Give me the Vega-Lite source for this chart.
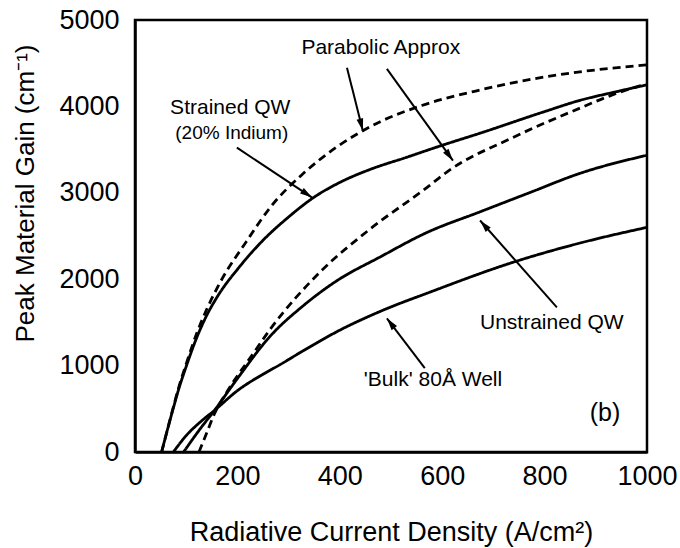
{
  "$schema": "https://vega.github.io/schema/vega-lite/v6.json",
  "width": 512,
  "height": 432,
  "autosize": {"type": "none"},
  "padding": {"left": 135, "top": 20, "right": 33, "bottom": 96},
  "background": "white",
  "config": {
    "view": {"stroke": "black", "strokeWidth": 2.5},
    "font": "Liberation Sans",
    "axis": {
      "grid": false,
      "ticks": false,
      "domainColor": "black",
      "domainWidth": 2.5,
      "labelColor": "black",
      "titleColor": "black",
      "labelFont": "Liberation Sans",
      "titleFont": "Liberation Sans",
      "labelFontSize": 27,
      "titleFontWeight": "normal"
    }
  },
  "datasets": {
    "curves": [
      {"series": "Strained QW", "model": "Full calculation", "j": 52, "gain": 0},
      {"series": "Strained QW", "model": "Full calculation", "j": 63, "gain": 250},
      {"series": "Strained QW", "model": "Full calculation", "j": 74, "gain": 490},
      {"series": "Strained QW", "model": "Full calculation", "j": 86, "gain": 740},
      {"series": "Strained QW", "model": "Full calculation", "j": 100, "gain": 990},
      {"series": "Strained QW", "model": "Full calculation", "j": 121, "gain": 1330},
      {"series": "Strained QW", "model": "Full calculation", "j": 140, "gain": 1580},
      {"series": "Strained QW", "model": "Full calculation", "j": 160, "gain": 1790},
      {"series": "Strained QW", "model": "Full calculation", "j": 205, "gain": 2150},
      {"series": "Strained QW", "model": "Full calculation", "j": 250, "gain": 2450},
      {"series": "Strained QW", "model": "Full calculation", "j": 300, "gain": 2720},
      {"series": "Strained QW", "model": "Full calculation", "j": 350, "gain": 2950},
      {"series": "Strained QW", "model": "Full calculation", "j": 400, "gain": 3120},
      {"series": "Strained QW", "model": "Full calculation", "j": 459, "gain": 3270},
      {"series": "Strained QW", "model": "Full calculation", "j": 530, "gain": 3410},
      {"series": "Strained QW", "model": "Full calculation", "j": 600, "gain": 3550},
      {"series": "Strained QW", "model": "Full calculation", "j": 674, "gain": 3690},
      {"series": "Strained QW", "model": "Full calculation", "j": 800, "gain": 3940},
      {"series": "Strained QW", "model": "Full calculation", "j": 869, "gain": 4070},
      {"series": "Strained QW", "model": "Full calculation", "j": 940, "gain": 4170},
      {"series": "Strained QW", "model": "Full calculation", "j": 1000, "gain": 4250},

      {"series": "Strained QW (parabolic)", "model": "Parabolic Approx", "j": 52, "gain": 0},
      {"series": "Strained QW (parabolic)", "model": "Parabolic Approx", "j": 63, "gain": 250},
      {"series": "Strained QW (parabolic)", "model": "Parabolic Approx", "j": 74, "gain": 500},
      {"series": "Strained QW (parabolic)", "model": "Parabolic Approx", "j": 86, "gain": 760},
      {"series": "Strained QW (parabolic)", "model": "Parabolic Approx", "j": 100, "gain": 1020},
      {"series": "Strained QW (parabolic)", "model": "Parabolic Approx", "j": 121, "gain": 1380},
      {"series": "Strained QW (parabolic)", "model": "Parabolic Approx", "j": 140, "gain": 1650},
      {"series": "Strained QW (parabolic)", "model": "Parabolic Approx", "j": 166, "gain": 1960},
      {"series": "Strained QW (parabolic)", "model": "Parabolic Approx", "j": 218, "gain": 2440},
      {"series": "Strained QW (parabolic)", "model": "Parabolic Approx", "j": 264, "gain": 2830},
      {"series": "Strained QW (parabolic)", "model": "Parabolic Approx", "j": 328, "gain": 3220},
      {"series": "Strained QW (parabolic)", "model": "Parabolic Approx", "j": 394, "gain": 3530},
      {"series": "Strained QW (parabolic)", "model": "Parabolic Approx", "j": 478, "gain": 3820},
      {"series": "Strained QW (parabolic)", "model": "Parabolic Approx", "j": 560, "gain": 4010},
      {"series": "Strained QW (parabolic)", "model": "Parabolic Approx", "j": 674, "gain": 4190},
      {"series": "Strained QW (parabolic)", "model": "Parabolic Approx", "j": 770, "gain": 4310},
      {"series": "Strained QW (parabolic)", "model": "Parabolic Approx", "j": 869, "gain": 4400},
      {"series": "Strained QW (parabolic)", "model": "Parabolic Approx", "j": 1000, "gain": 4480},

      {"series": "Unstrained QW", "model": "Full calculation", "j": 95, "gain": 0},
      {"series": "Unstrained QW", "model": "Full calculation", "j": 125, "gain": 250},
      {"series": "Unstrained QW", "model": "Full calculation", "j": 155, "gain": 480},
      {"series": "Unstrained QW", "model": "Full calculation", "j": 200, "gain": 850},
      {"series": "Unstrained QW", "model": "Full calculation", "j": 264, "gain": 1340},
      {"series": "Unstrained QW", "model": "Full calculation", "j": 328, "gain": 1690},
      {"series": "Unstrained QW", "model": "Full calculation", "j": 395, "gain": 1985},
      {"series": "Unstrained QW", "model": "Full calculation", "j": 478, "gain": 2255},
      {"series": "Unstrained QW", "model": "Full calculation", "j": 570, "gain": 2540},
      {"series": "Unstrained QW", "model": "Full calculation", "j": 674, "gain": 2780},
      {"series": "Unstrained QW", "model": "Full calculation", "j": 770, "gain": 3000},
      {"series": "Unstrained QW", "model": "Full calculation", "j": 869, "gain": 3225},
      {"series": "Unstrained QW", "model": "Full calculation", "j": 1000, "gain": 3435},

      {"series": "Unstrained QW (parabolic)", "model": "Parabolic Approx", "j": 125, "gain": 0},
      {"series": "Unstrained QW (parabolic)", "model": "Parabolic Approx", "j": 140, "gain": 220},
      {"series": "Unstrained QW (parabolic)", "model": "Parabolic Approx", "j": 155, "gain": 440},
      {"series": "Unstrained QW (parabolic)", "model": "Parabolic Approx", "j": 180, "gain": 700},
      {"series": "Unstrained QW (parabolic)", "model": "Parabolic Approx", "j": 231, "gain": 1140},
      {"series": "Unstrained QW (parabolic)", "model": "Parabolic Approx", "j": 264, "gain": 1420},
      {"series": "Unstrained QW (parabolic)", "model": "Parabolic Approx", "j": 361, "gain": 2080},
      {"series": "Unstrained QW (parabolic)", "model": "Parabolic Approx", "j": 459, "gain": 2580},
      {"series": "Unstrained QW (parabolic)", "model": "Parabolic Approx", "j": 570, "gain": 3060},
      {"series": "Unstrained QW (parabolic)", "model": "Parabolic Approx", "j": 609, "gain": 3240},
      {"series": "Unstrained QW (parabolic)", "model": "Parabolic Approx", "j": 738, "gain": 3640},
      {"series": "Unstrained QW (parabolic)", "model": "Parabolic Approx", "j": 869, "gain": 3980},
      {"series": "Unstrained QW (parabolic)", "model": "Parabolic Approx", "j": 922, "gain": 4110},
      {"series": "Unstrained QW (parabolic)", "model": "Parabolic Approx", "j": 960, "gain": 4190},
      {"series": "Unstrained QW (parabolic)", "model": "Parabolic Approx", "j": 990, "gain": 4245},

      {"series": "'Bulk' 80Å Well", "model": "Full calculation", "j": 75, "gain": 0},
      {"series": "'Bulk' 80Å Well", "model": "Full calculation", "j": 100, "gain": 190},
      {"series": "'Bulk' 80Å Well", "model": "Full calculation", "j": 130, "gain": 360},
      {"series": "'Bulk' 80Å Well", "model": "Full calculation", "j": 155, "gain": 480},
      {"series": "'Bulk' 80Å Well", "model": "Full calculation", "j": 200, "gain": 710},
      {"series": "'Bulk' 80Å Well", "model": "Full calculation", "j": 250, "gain": 900},
      {"series": "'Bulk' 80Å Well", "model": "Full calculation", "j": 283, "gain": 1010},
      {"series": "'Bulk' 80Å Well", "model": "Full calculation", "j": 328, "gain": 1170},
      {"series": "'Bulk' 80Å Well", "model": "Full calculation", "j": 400, "gain": 1410},
      {"series": "'Bulk' 80Å Well", "model": "Full calculation", "j": 484, "gain": 1640},
      {"series": "'Bulk' 80Å Well", "model": "Full calculation", "j": 576, "gain": 1850},
      {"series": "'Bulk' 80Å Well", "model": "Full calculation", "j": 738, "gain": 2195},
      {"series": "'Bulk' 80Å Well", "model": "Full calculation", "j": 870, "gain": 2420},
      {"series": "'Bulk' 80Å Well", "model": "Full calculation", "j": 1000, "gain": 2600}
    ],
    "labels": [
      {"label": "Parabolic Approx", "j": 480, "gain": 4675},
      {"label": "Strained QW", "j": 186, "gain": 3985},
      {"label": "(20% Indium)", "j": 189, "gain": 3695},
      {"label": "Unstrained QW", "j": 814, "gain": 1490},
      {"label": "'Bulk' 80Å Well", "j": 582, "gain": 830},
      {"label": "(b)", "j": 918, "gain": 450}
    ],
    "arrows": [
      {"target": "Strained QW", "j": 199, "gain": 3522, "j_tip": 346, "gain_tip": 2945},
      {"target": "Strained QW (parabolic)", "j": 414, "gain": 4446, "j_tip": 445, "gain_tip": 3718},
      {"target": "Unstrained QW (parabolic)", "j": 492, "gain": 4434, "j_tip": 621, "gain_tip": 3372},
      {"target": "Unstrained QW", "j": 824, "gain": 1674, "j_tip": 674, "gain_tip": 2679},
      {"target": "'Bulk' 80Å Well", "j": 566, "gain": 970, "j_tip": 492, "gain_tip": 1547}
    ],
    "xticks_major": [{"j": 200}, {"j": 400}, {"j": 600}, {"j": 800}],
    "xticks_minor": [
      {"j": 50}, {"j": 100}, {"j": 150}, {"j": 250}, {"j": 300}, {"j": 350},
      {"j": 450}, {"j": 500}, {"j": 550}, {"j": 650}, {"j": 700}, {"j": 750},
      {"j": 850}, {"j": 900}, {"j": 950}
    ],
    "yticks_major": [{"gain": 1000}, {"gain": 2000}, {"gain": 3000}, {"gain": 4000}],
    "yticks_minor": [{"gain": 500}, {"gain": 1500}, {"gain": 2500}, {"gain": 3500}, {"gain": 4500}]
  },
  "encoding": {
    "x": {
      "field": "j",
      "type": "quantitative",
      "scale": {"domain": [0, 1000], "nice": false, "zero": false},
      "axis": {
        "title": "Radiative Current Density (A/cm²)",
        "titleFontSize": 27,
        "titleBaseline": "alphabetic",
        "titleY": 88,
        "values": [0, 200, 400, 600, 800, 1000],
        "labelPadding": 11,
        "labelFlush": false,
        "labelOverlap": false,
        "format": "d"
      }
    },
    "y": {
      "field": "gain",
      "type": "quantitative",
      "scale": {"domain": [0, 5000], "nice": false},
      "axis": {
        "title": "Peak Material Gain (cm⁻¹)",
        "titleFontSize": 26,
        "titleAngle": -90,
        "titleBaseline": "middle",
        "titleX": -110,
        "titleY": 173,
        "values": [0, 1000, 2000, 3000, 4000, 5000],
        "labelPadding": 16,
        "labelFlush": false,
        "labelOverlap": false,
        "format": "d"
      }
    }
  },
  "layer": [
    {
      "data": {"name": "xticks_major"},
      "mark": {"type": "rule", "color": "black", "strokeWidth": 2.5},
      "encoding": {"y": {"datum": 0}, "y2": {"datum": 110}}
    },
    {
      "data": {"name": "xticks_minor"},
      "mark": {"type": "rule", "color": "black", "strokeWidth": 2.5},
      "encoding": {"y": {"datum": 0}, "y2": {"datum": 70}}
    },
    {
      "data": {"name": "yticks_major"},
      "mark": {"type": "rule", "color": "black", "strokeWidth": 2.5},
      "encoding": {"x": {"datum": 0}, "x2": {"datum": 22}}
    },
    {
      "data": {"name": "yticks_minor"},
      "mark": {"type": "rule", "color": "black", "strokeWidth": 2.5},
      "encoding": {"x": {"datum": 0}, "x2": {"datum": 15}}
    },
    {
      "data": {"name": "curves"},
      "mark": {"type": "line", "color": "black", "strokeWidth": 2.8, "interpolate": "monotone", "clip": true},
      "encoding": {
        "detail": {"field": "series"},
        "strokeDash": {
          "field": "model",
          "type": "nominal",
          "scale": {"domain": ["Full calculation", "Parabolic Approx"], "range": [[1, 0], [8, 5]]},
          "legend": null
        }
      }
    },
    {
      "data": {"name": "arrows"},
      "mark": {"type": "rule", "color": "black", "strokeWidth": 2},
      "encoding": {
        "x2": {"field": "j_tip"},
        "y2": {"field": "gain_tip"}
      }
    },
    {
      "data": {"name": "arrows"},
      "transform": [
        {"calculate": "atan2((datum.j_tip - datum.j) * 0.512, (datum.gain_tip - datum.gain) * 0.0864) * 180 / PI", "as": "heading"}
      ],
      "mark": {"type": "point", "filled": true, "color": "black", "opacity": 1, "shape": "M0,0L-0.55,2L0.55,2Z", "size": 150},
      "encoding": {
        "x": {"field": "j_tip", "type": "quantitative"},
        "y": {"field": "gain_tip", "type": "quantitative"},
        "angle": {"field": "heading", "type": "quantitative", "scale": null}
      }
    },
    {
      "data": {"name": "labels"},
      "mark": {"type": "text", "color": "black", "font": "Liberation Sans", "baseline": "middle", "align": "center"},
      "encoding": {
        "text": {"field": "label"},
        "size": {
          "condition": [
            {"test": "datum.label === '(20% Indium)'", "value": 19},
            {"test": "datum.label === '(b)'", "value": 25}
          ],
          "value": 21
        }
      }
    }
  ]
}
